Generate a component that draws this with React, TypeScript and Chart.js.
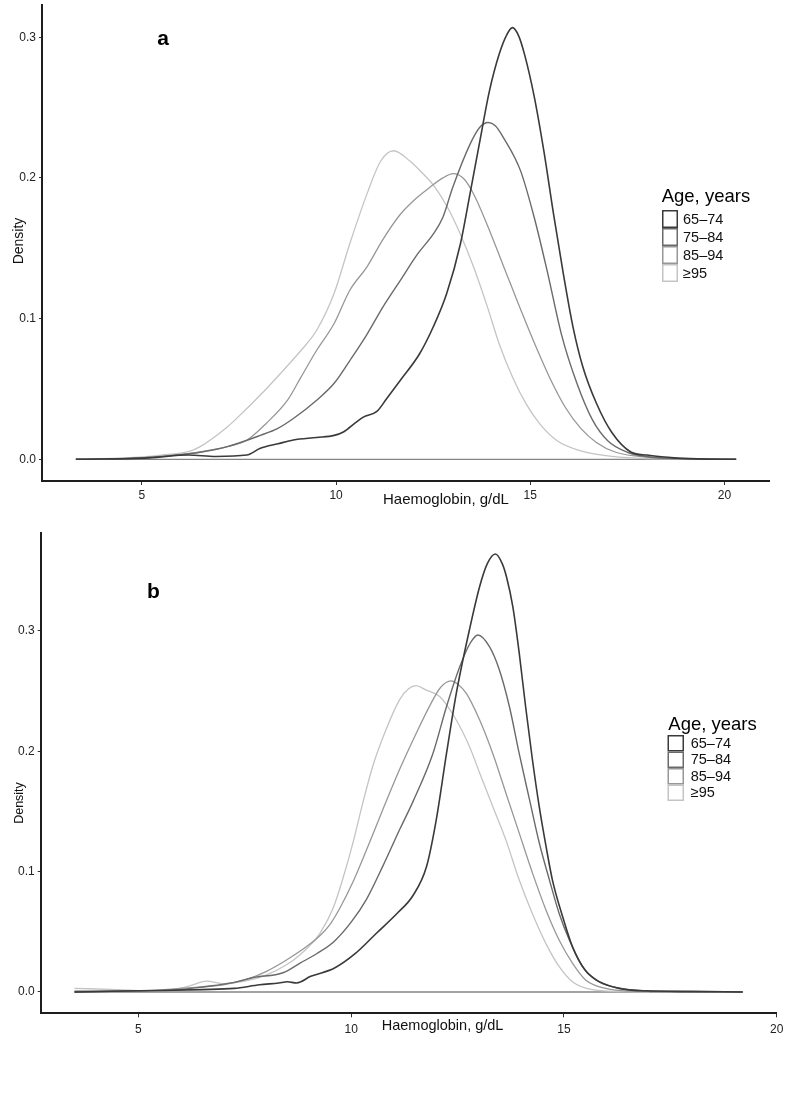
import React, { useEffect, useRef } from "react";
import { Chart, registerables } from "chart.js";

Chart.register(...registerables);

// ---------- shared labels / ticks ----------
const groups = ["65–74", "75–84", "85–94", "≥95"];
const groupColors = ["#3a3a3a", "#6a6a6a", "#979797", "#c4c4c4"];
const groupWidths = [1.6, 1.4, 1.3, 1.3];
const xTickValues = [5, 10, 15, 20];
const yTickValues = [0, 0.1, 0.2, 0.3];
const xTitle = "Haemoglobin, g/dL";
const yTitle = "Density";
const legendTitle = "Age, years";

// ---------- panel a ----------
const hbA65 = [3.3, 5.2, 6.2, 6.9, 7.7, 8.05, 8.5, 8.9, 9.5, 9.95, 10.2, 10.5, 10.7, 11.05, 11.3, 11.65, 12.15, 12.5, 12.85, 13.2, 13.45, 13.7, 13.95, 14.2, 14.4, 14.54, 14.7, 14.85, 15.1, 15.35, 15.6, 15.85, 16.1, 16.35, 16.7, 17.1, 17.6, 18.0, 18.7, 19.3, 20.3];
const dA65 = [0, 0.001, 0.003, 0.002, 0.003, 0.0078, 0.011, 0.0137, 0.0155, 0.017, 0.0196, 0.026, 0.03, 0.034, 0.043, 0.056, 0.075, 0.094, 0.118, 0.153, 0.189, 0.226, 0.262, 0.288, 0.302, 0.3068, 0.301, 0.288, 0.258, 0.219, 0.174, 0.132, 0.094, 0.066, 0.04, 0.019, 0.005, 0.003, 0.001, 0.0003, 0];

const hbA75 = [3.3, 5.0, 5.9, 6.5, 7.2, 8.05, 8.5, 8.9, 9.5, 9.95, 10.35, 10.8, 11.2, 11.65, 12.1, 12.5, 12.75, 13.0, 13.45, 13.7, 13.92, 14.1, 14.3, 14.75, 15.1, 15.45, 15.8, 16.2, 16.6, 17.0, 17.5, 18.0, 18.8, 20.3];
const dA75 = [0, 0.001, 0.003, 0.005, 0.009, 0.017, 0.022, 0.029, 0.042, 0.054, 0.07, 0.089, 0.108, 0.127, 0.146, 0.16, 0.172, 0.193, 0.224, 0.236, 0.2394, 0.237, 0.229, 0.205, 0.172, 0.132, 0.089, 0.054, 0.028, 0.013, 0.005, 0.002, 0.0005, 0];

const hbA85 = [3.3, 5.0, 6.2, 6.8, 7.35, 7.7, 8.2, 8.75, 9.1, 9.5, 9.95, 10.35, 10.8, 11.2, 11.65, 12.0, 12.4, 12.75, 13.02, 13.3, 13.55, 13.9, 14.3, 14.7, 15.1, 15.5, 15.9, 16.3, 16.7, 17.2, 17.8, 18.5, 20.3];
const dA85 = [0, 0.001, 0.004, 0.0066, 0.01, 0.0135, 0.0255, 0.042, 0.0586, 0.0775, 0.0965, 0.12, 0.137, 0.156, 0.174, 0.184, 0.193, 0.2, 0.203, 0.199, 0.188, 0.166, 0.138, 0.11, 0.083, 0.058, 0.037, 0.022, 0.012, 0.005, 0.002, 0.0005, 0];

const hbA95 = [3.3, 4.6, 5.5, 6.2, 6.5, 7.2, 7.4, 8.2, 8.6, 9.1, 9.5, 9.95, 10.35, 10.8, 11.15, 11.48, 11.9, 12.2, 12.5, 12.85, 13.2, 13.55, 13.9, 14.2, 14.55, 14.9, 15.25, 15.7, 16.3, 17.1, 18.0, 20.3];
const dA95 = [0, 0.001, 0.003, 0.0054, 0.009, 0.023, 0.028, 0.05, 0.062, 0.0775, 0.0917, 0.118, 0.153, 0.189, 0.212, 0.2193, 0.212, 0.204, 0.195, 0.18, 0.16, 0.136, 0.108, 0.082, 0.058, 0.039, 0.025, 0.013, 0.006, 0.002, 0.0005, 0];

const baselineA = [3.3, 20.3];

// ---------- panel b ----------
const hbB65 = [3.5, 5.0, 6.5, 7.25, 7.85, 8.3, 8.5, 8.72, 9.05, 9.6, 10.1, 10.6, 11.1, 11.45, 11.77, 12.0, 12.24, 12.47, 12.78, 13.02, 13.2, 13.39, 13.55, 13.65, 13.8, 13.95, 14.1, 14.26, 14.42, 14.58, 14.73, 14.97, 15.2, 15.5, 15.83, 16.3, 16.9, 18.0, 19.2];
const dB65 = [0, 0.001, 0.002, 0.003, 0.006, 0.0075, 0.0085, 0.0075, 0.013, 0.0197, 0.032, 0.049, 0.066, 0.08, 0.104, 0.143, 0.198, 0.248, 0.301, 0.337, 0.356, 0.364, 0.356, 0.345, 0.32, 0.2815, 0.237, 0.193, 0.154, 0.121, 0.093, 0.0626, 0.0377, 0.018, 0.0086, 0.003, 0.001, 0.0005, 0];

const hbB75 = [3.5, 5.0, 6.0, 6.45, 7.25, 7.7, 8.4, 8.8, 9.2, 9.6, 10.0, 10.36, 10.75, 11.14, 11.45, 11.92, 12.24, 12.55, 12.8, 12.98, 13.25, 13.48, 13.72, 13.95, 14.19, 14.42, 14.66, 14.89, 15.13, 15.44, 15.75, 16.14, 16.8, 19.2];
const dB75 = [0, 0.001, 0.002, 0.004, 0.008, 0.012, 0.016, 0.024, 0.032, 0.042, 0.058, 0.077, 0.105, 0.135, 0.158, 0.198, 0.237, 0.27, 0.29, 0.2967, 0.287, 0.268, 0.237, 0.198, 0.16, 0.124, 0.093, 0.065, 0.043, 0.021, 0.01, 0.0044, 0.001, 0];

const hbB85 = [3.5, 5.0, 6.0, 7.0, 7.5, 8.0, 8.5, 9.0, 9.3, 9.5, 9.74, 10.05, 10.36, 10.75, 11.14, 11.53, 11.85, 12.1, 12.35, 12.5, 12.71, 13.02, 13.33, 13.64, 13.95, 14.26, 14.58, 14.89, 15.2, 15.51, 15.98, 16.8, 19.2];
const dB85 = [0.001, 0.001, 0.003, 0.006, 0.01, 0.017, 0.027, 0.039, 0.048, 0.056, 0.07, 0.092, 0.118, 0.152, 0.185, 0.215, 0.238, 0.253, 0.2585, 0.256, 0.248, 0.226, 0.198, 0.165, 0.132, 0.099, 0.068, 0.043, 0.024, 0.01, 0.003, 0.0005, 0];

const hbB95 = [3.5, 4.5, 5.2, 5.8, 6.2, 6.6, 7.0, 7.5, 8.0, 8.5, 8.8, 9.04, 9.27, 9.58, 9.82, 10.05, 10.28, 10.52, 10.83, 11.14, 11.35, 11.53, 11.75, 12.08, 12.47, 12.78, 13.02, 13.33, 13.64, 13.95, 14.26, 14.58, 14.89, 15.2, 15.67, 16.5, 17.0];
const dB95 = [0.003, 0.002, 0.001, 0.002, 0.005, 0.009, 0.007, 0.009, 0.014, 0.023, 0.031, 0.039, 0.049, 0.07, 0.096, 0.125, 0.158, 0.189, 0.219, 0.243, 0.252, 0.2546, 0.251, 0.2455, 0.226, 0.204, 0.182, 0.154, 0.126, 0.093, 0.065, 0.04, 0.021, 0.0086, 0.002, 0.0003, 0];

const baselineB = [3.5, 19.2];

const FONT = "'Liberation Sans', Arial, Helvetica, sans-serif";

type Spec = {
  letter: string;
  height: number;
  left: number;
  right: number;
  top: number;
  bottom: number;
  xMin: number;
  xMax: number;
  yMin: number;
  yMax: number;
  series: [number[], number[]][];
  baseline: number[];
  xPad: number;
  yPad: number;
  letterPos: [number, number];
  yTitlePos: [number, number, number];
  xTitlePos: [number, number, number];
  legend: { tx: number; ty: number; bx: number; bw: number; rows: number[]; bh: number; lx: number };
};

const specA: Spec = {
  letter: "a",
  height: 519,
  left: 42,
  right: 769,
  top: 5,
  bottom: 481,
  xMin: 2.428,
  xMax: 21.146,
  yMin: -0.01543,
  yMax: 0.3229,
  series: [
    [hbA65, dA65],
    [hbA75, dA75],
    [hbA85, dA85],
    [hbA95, dA95],
  ],
  baseline: baselineA,
  xPad: 3,
  yPad: 3,
  letterPos: [163, 45],
  yTitlePos: [18.8, 241, 14],
  xTitlePos: [383, 504, 15],
  legend: { tx: 661.7, ty: 201.7, bx: 662, bw: 16, rows: [210, 228, 246, 264], bh: 18, lx: 683 },
};

const specB: Spec = {
  letter: "b",
  height: 600,
  left: 40.7,
  right: 776.7,
  top: 14,
  bottom: 494.3,
  xMin: 2.705,
  xMax: 20.0,
  yMin: -0.0177,
  yMax: 0.3814,
  series: [
    [hbB65, dB65],
    [hbB75, dB75],
    [hbB85, dB85],
    [hbB95, dB95],
  ],
  baseline: baselineB,
  xPad: 5,
  yPad: 3,
  letterPos: [153.5, 79],
  yTitlePos: [19.2, 284, 12.5],
  xTitlePos: [381.7, 511.4, 14.5],
  legend: { tx: 668.3, ty: 211, bx: 667.5, bw: 16.5, rows: [216, 232.5, 249, 265.5], bh: 16.5, lx: 690.7 },
};

function toPoints(xs: number[], ys: number[]) {
  return xs.map((x, i) => ({ x, y: ys[i] }));
}

const overlay = {
  id: "overlay",
  afterDraw(chart: any, _args: any, opts: any) {
    const s: Spec = opts.spec;
    const ctx = chart.ctx as CanvasRenderingContext2D;
    ctx.save();
    // panel letter
    ctx.fillStyle = "#000";
    ctx.font = `bold 21px ${FONT}`;
    ctx.textAlign = "center";
    ctx.textBaseline = "alphabetic";
    ctx.fillText(s.letter, s.letterPos[0], s.letterPos[1]);
    // y title
    ctx.save();
    ctx.translate(s.yTitlePos[0], s.yTitlePos[1]);
    ctx.rotate(-Math.PI / 2);
    ctx.font = `${s.yTitlePos[2]}px ${FONT}`;
    ctx.fillStyle = "#111";
    ctx.textAlign = "center";
    ctx.textBaseline = "middle";
    ctx.fillText(yTitle, 0, 0);
    ctx.restore();
    // x title
    ctx.font = `${s.xTitlePos[2]}px ${FONT}`;
    ctx.fillStyle = "#111";
    ctx.textAlign = "left";
    ctx.textBaseline = "alphabetic";
    ctx.fillText(xTitle, s.xTitlePos[0], s.xTitlePos[1]);
    // legend
    const L = s.legend;
    ctx.font = `18.5px ${FONT}`;
    ctx.fillStyle = "#000";
    ctx.fillText(legendTitle, L.tx, L.ty);
    ctx.font = `14.5px ${FONT}`;
    ctx.textBaseline = "middle";
    for (let i = groups.length - 1; i >= 0; i--) {
      ctx.fillStyle = "#fff";
      ctx.fillRect(L.bx, L.rows[i], L.bw, L.bh);
      ctx.strokeStyle = groupColors[i];
      ctx.lineWidth = 1.5;
      ctx.strokeRect(L.bx + 0.75, L.rows[i] + 0.75, L.bw - 1.5, L.bh - 1.5);
    }
    for (let i = 0; i < groups.length; i++) {
      ctx.fillStyle = "#111";
      ctx.fillText(groups[i], L.lx, L.rows[i] + L.bh / 2 + 0.5);
    }
    ctx.restore();
  },
};

function buildConfig(s: Spec): any {
  const datasets: any[] = s.series.map((pair, i) => ({
    label: groups[i],
    data: toPoints(pair[0], pair[1]),
    borderColor: groupColors[i],
    borderWidth: groupWidths[i],
    pointRadius: 0,
    fill: false,
    cubicInterpolationMode: "monotone",
  }));
  datasets.push({
    label: "baseline",
    data: toPoints(s.baseline, [0, 0]),
    borderColor: "#858585",
    borderWidth: 1.3,
    pointRadius: 0,
    fill: false,
  });
  return {
    type: "line",
    data: { datasets },
    plugins: [overlay],
    options: {
      animation: false,
      responsive: false,
      devicePixelRatio: 1,
      events: [],
      layout: {
        autoPadding: false,
        padding: { left: 0, top: s.top, right: 797 - s.right, bottom: 0 },
      },
      plugins: {
        legend: { display: false },
        tooltip: { enabled: false },
        overlay: { spec: s },
      },
      scales: {
        x: {
          type: "linear",
          min: s.xMin,
          max: s.xMax,
          afterBuildTicks: (sc: any) => {
            sc.ticks = xTickValues.map((v) => ({ value: v }));
          },
          afterFit: (sc: any) => {
            sc.height = s.height - s.bottom;
            sc.paddingLeft = 0;
            sc.paddingRight = 0;
          },
          grid: { display: true, drawOnChartArea: false, drawTicks: true, tickLength: 4, color: "#333", lineWidth: 1 },
          border: { display: true, color: "#1e1e1e", width: 2 },
          ticks: {
            font: { family: FONT, size: 12 },
            color: "#222",
            padding: s.xPad,
            maxRotation: 0,
            autoSkip: false,
            callback: (v: any) => String(v),
          },
        },
        y: {
          type: "linear",
          min: s.yMin,
          max: s.yMax,
          afterBuildTicks: (sc: any) => {
            sc.ticks = yTickValues.map((v) => ({ value: v }));
          },
          afterFit: (sc: any) => {
            sc.width = s.left;
            sc.paddingTop = 0;
            sc.paddingBottom = 0;
          },
          grid: { display: true, drawOnChartArea: false, drawTicks: true, tickLength: 3, color: "#333", lineWidth: 1 },
          border: { display: true, color: "#1e1e1e", width: 2 },
          ticks: {
            font: { family: FONT, size: 12 },
            color: "#222",
            padding: s.yPad,
            autoSkip: false,
            callback: (v: any) => Number(v).toFixed(1),
          },
        },
      },
    },
  };
}

function Panel({ spec, top }: { spec: Spec; top: number }) {
  const ref = useRef<HTMLCanvasElement>(null);
  useEffect(() => {
    const chart = new Chart(ref.current as HTMLCanvasElement, buildConfig(spec));
    return () => chart.destroy();
  }, [spec]);
  return (
    <canvas
      ref={ref}
      width={797}
      height={spec.height}
      style={{ position: "absolute", left: 0, top, width: 797, height: spec.height, display: "block" }}
    />
  );
}

export default function App() {
  return (
    <div style={{ position: "absolute", left: 0, top: 0, width: 797, height: 1119, background: "#fff", overflow: "hidden" }}>
      <Panel spec={specA} top={0} />
      <Panel spec={specB} top={519} />
    </div>
  );
}
